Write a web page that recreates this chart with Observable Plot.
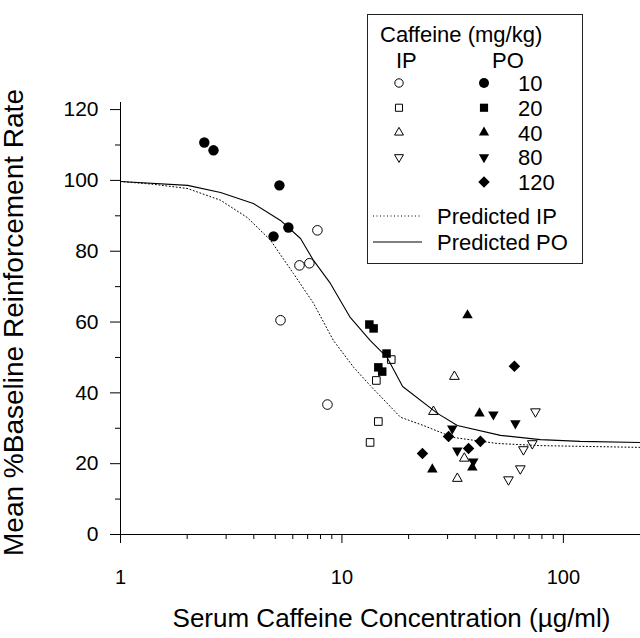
<!DOCTYPE html>
<html>
<head>
<meta charset="utf-8">
<script src="https://cdn.jsdelivr.net/npm/d3@7"></script>
<script src="https://cdn.jsdelivr.net/npm/@observablehq/plot@0.6"></script>
<style>
  html, body { margin: 0; padding: 0; background: white; }
  #wrap { position: relative; width: 640px; height: 638px; font-family: "Liberation Sans", Arial, sans-serif; }
  #legend { position: absolute; left: 0; top: 0; }
</style>
</head>
<body>
<div id="wrap"></div>
<script>
// ---- data (x = serum caffeine µg/ml, y = mean % baseline reinforcement rate)
const ip10  = [[7.75,85.9],[6.43,76.0],[7.13,76.6],[5.28,60.5],[8.6,36.7]];
const po10  = [[2.39,110.7],[2.63,108.5],[5.22,98.6],[5.73,86.7],[4.91,84.2]];
const ip20  = [[16.7,49.4],[14.3,43.5],[14.6,31.9],[13.4,26.0]];
const po20  = [[13.3,59.3],[13.9,58.2],[15.9,51.1],[14.6,47.2],[15.2,46.0]];
const ip40  = [[25.9,34.7],[32.2,44.6],[35.7,21.5],[33.2,15.8]];
const po40  = [[36.9,61.9],[41.8,34.2],[38.8,18.9],[25.6,18.4]];
const ip80  = [[74.8,34.7],[66.0,24.0],[72.4,25.7],[63.9,18.6],[56.5,15.5]];
const po80  = [[48.3,33.9],[60.7,31.4],[31.5,29.9],[33.2,23.7],[39.2,20.6]];
const po120 = [[60.1,47.5],[30.3,27.7],[42.2,26.3],[37.3,24.3],[23.1,22.9]];

const predIP = [[1,99.7],[1.41,98.9],[2.01,97.7],[2.83,94.4],[3.74,89.5],[4.76,83.1],[6.04,73.7],
  [7.44,65.3],[9.15,54.8],[11.3,47.2],[13.4,42.1],[18.4,33.1],[23.3,30.8],[31.9,27.4],[50.4,25.7],
  [78.7,25.1],[119,24.9],[223,24.6]];
const predPO = [[1,99.7],[2.01,98.6],[2.83,96.6],[3.98,93.5],[5.28,88.7],[6.5,83.6],[7.44,77.4],
  [8.87,70.9],[10.9,61.3],[13.4,54.8],[16.0,50.0],[18.8,41.8],[27.0,34.2],[33.2,30.8],[52.0,28.0],
  [78.7,26.8],[119,26.3],[223,26.0]];

const yMajor = [0,20,40,60,80,100,120];
const yMinor = [10,30,50,70,90,110];
const xMajor = [1,10,100];
const xMinor = [2,3,4,5,6,7,8,9,20,30,40,50,60,70,80,90];
const xTitle = "Serum Caffeine Concentration (µg/ml)";
const yTitle = "Mean %Baseline Reinforcement Rate";
const doses = ["10","20","40","80","120"];

const X = d => d[0], Y = d => d[1];
const open = {fill: "none", stroke: "black", strokeWidth: 1};
const solid = {fill: "black", stroke: "none"};

const chart = Plot.plot({
  width: 640, height: 638,
  marginLeft: 120, marginRight: 0, marginTop: 102, marginBottom: 104,
  x: {type: "log", domain: [1, 223]},
  y: {domain: [0, 122]},
  style: {fontFamily: "'Liberation Sans', Arial, sans-serif", background: "white", color: "black", overflow: "visible"},
  marks: [
    Plot.frame({anchor: "left", stroke: "black"}),
    Plot.frame({anchor: "bottom", stroke: "black"}),
    Plot.axisY({ticks: yMajor, tickSize: 10, tickPadding: 12, fontSize: 21, label: null, tickFormat: d => String(d)}),
    Plot.axisY({ticks: yMinor, tickSize: 5, label: null, tickFormat: () => ""}),
    Plot.axisX({ticks: xMajor, tickSize: 9, tickPadding: 26, fontSize: 20, label: null, tickFormat: d => String(d)}),
    Plot.axisX({ticks: xMinor, tickSize: 5, label: null, tickFormat: () => ""}),
    Plot.line(predIP, {x: X, y: Y, stroke: "black", strokeWidth: 1, strokeDasharray: "1,2.5"}),
    Plot.line(predPO, {x: X, y: Y, stroke: "black", strokeWidth: 1.1}),
    Plot.dot(ip10, {x: X, y: Y, symbol: "circle", r: 4.8, ...open}),
    Plot.dot(ip20, {x: X, y: Y, symbol: "square", r: 4.3, ...open}),
    Plot.dot(ip40, {x: X, y: Y, symbol: "triangle", r: 3.6, ...open}),
    Plot.dot(ip80, {x: X, y: Y, symbol: "triangle", rotate: 180, r: 3.6, ...open}),
    Plot.dot(po10, {x: X, y: Y, symbol: "circle", r: 5.2, ...solid}),
    Plot.dot(po20, {x: X, y: Y, symbol: "square", r: 4.8, ...solid}),
    Plot.dot(po40, {x: X, y: Y, symbol: "triangle", r: 3.9, ...solid}),
    Plot.dot(po80, {x: X, y: Y, symbol: "triangle", rotate: 180, r: 3.9, ...solid}),
    Plot.dot(po120, {x: X, y: Y, symbol: "diamond2", r: 5.2, ...solid}),
    Plot.text([xTitle], {text: d => d, frameAnchor: "bottom", textAnchor: "middle", dx: 11, dy: 84, fontSize: 26, lineAnchor: "middle"}),
    Plot.text([yTitle], {text: d => d, frameAnchor: "left", textAnchor: "middle", rotate: -90, dx: -106, dy: 4, fontSize: 28, lineAnchor: "middle"})
  ]
});
const wrap = document.getElementById("wrap");
wrap.appendChild(chart);

// ---- legend (drawn in an overlay SVG, placed inside the plot area as in the original)
const svg = d3.select(wrap).append("svg").attr("id", "legend")
  .attr("width", 640).attr("height", 638)
  .style("font-family", "'Liberation Sans', Arial, sans-serif");
svg.append("rect").attr("x", 367.5).attr("y", 14.5).attr("width", 215).attr("height", 249)
  .attr("fill", "white").attr("stroke", "#222").attr("stroke-width", 1);
svg.append("text").attr("x", 380).attr("y", 42).attr("font-size", 22).text("Caffeine (mg/kg)");
svg.append("text").attr("x", 396).attr("y", 68).attr("font-size", 22).text("IP");
svg.append("text").attr("x", 492).attr("y", 68).attr("font-size", 22).text("PO");
const ipSyms = [d3.symbolCircle, d3.symbolSquare, d3.symbolTriangle, d3.symbolTriangle, null];
const poSyms = [d3.symbolCircle, d3.symbolSquare, d3.symbolTriangle, d3.symbolTriangle, d3.symbolDiamond2];
const ipR = [4.2, 4.0, 3.3, 3.3, 0];
const poR = [5.0, 4.6, 3.8, 3.8, 5.2];
doses.forEach((lab, i) => {
  const cy = 83 + i * 24.75;
  const rot = i === 3 ? 180 : 0;
  if (ipSyms[i]) {
    svg.append("path").attr("d", d3.symbol(ipSyms[i], ipR[i] * ipR[i] * Math.PI)())
      .attr("transform", `translate(399,${cy}) rotate(${rot})`)
      .attr("fill", "none").attr("stroke", "black").attr("stroke-width", 1);
  }
  svg.append("path").attr("d", d3.symbol(poSyms[i], poR[i] * poR[i] * Math.PI)())
    .attr("transform", `translate(484,${cy}) rotate(${rot})`).attr("fill", "black");
  svg.append("text").attr("x", 518).attr("y", cy + 8).attr("font-size", 22).text(lab);
});
svg.append("line").attr("x1", 373).attr("x2", 422).attr("y1", 216).attr("y2", 216)
  .attr("stroke", "black").attr("stroke-dasharray", "1,2.5");
svg.append("text").attr("x", 437).attr("y", 224).attr("font-size", 22).text("Predicted IP");
svg.append("line").attr("x1", 373).attr("x2", 422).attr("y1", 242).attr("y2", 242)
  .attr("stroke", "black").attr("stroke-width", 1.1);
svg.append("text").attr("x", 437).attr("y", 250).attr("font-size", 22).text("Predicted PO");
</script>
</body>
</html>
